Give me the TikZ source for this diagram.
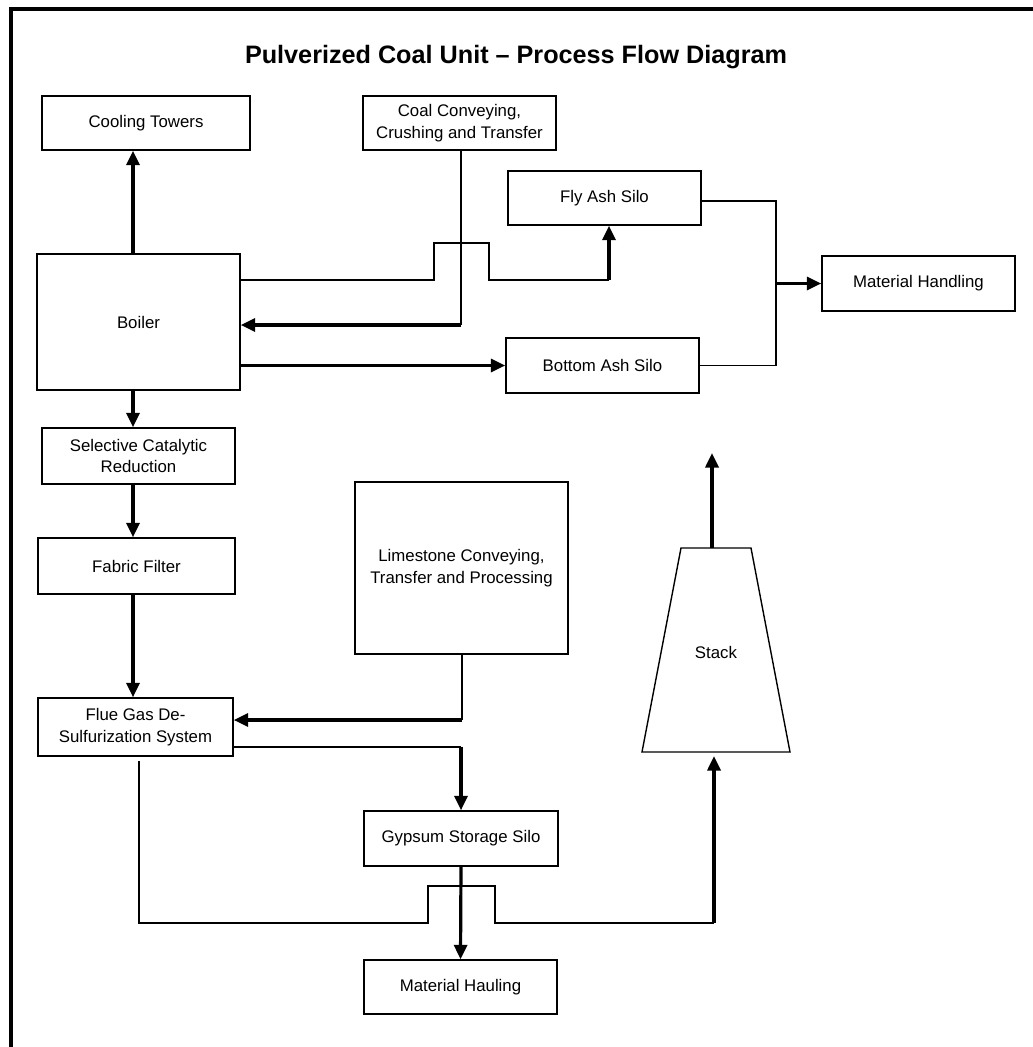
\documentclass[tikz,border=0pt]{standalone}
\usepackage{fontspec}
\setmainfont{Liberation Sans}
\usetikzlibrary{arrows.meta,calc}
\begin{document}
\begin{tikzpicture}[x=1pt,y=-1pt,
  box/.style={draw,line width=1.4pt,inner sep=0pt,align=center,font=\fontsize{16.8}{21.5}\selectfont},
  thinline/.style={line width=1.4pt},
  thickline/.style={line width=3.2pt},
  flow/.style={line width=3.2pt,-{Triangle[length=14.5pt,width=13pt]}},
  frameline/.style={line width=4pt}
]
\useasboundingbox (0,0) rectangle (1033,1047);
% frame
\coordinate (frTL) at (11,9);
\coordinate (frTR) at (1033,9);
\coordinate (frBL) at (11,1047);
\draw[frameline] (frTR) -- (frTL) -- (frBL);
% title
\node[font=\fontsize{25.2}{30}\selectfont\bfseries] (title) at (516,57) {Pulverized Coal Unit – Process Flow Diagram};
% boxes
\node[box,minimum width=208,minimum height=54] (cool) at (146,123) {Cooling Towers};
\node[box,minimum width=193,minimum height=54] (coal) at (459.5,123) {Coal Conveying,\\Crushing and Transfer};
\node[box,minimum width=193,minimum height=54] (fly) at (604.5,198) {Fly Ash Silo};
\node[box,minimum width=203,minimum height=136] (boiler) at (138.5,322) {Boiler};
\node[box,minimum width=193,minimum height=55] (mh) at (918.5,283.5) {Material Handling};
\node[box,minimum width=193,minimum height=55] (bash) at (602.5,365.5) {Bottom Ash Silo};
\node[box,minimum width=193,minimum height=56] (scr) at (138.5,456) {Selective Catalytic\\Reduction};
\node[box,minimum width=197,minimum height=56] (ff) at (136.5,566) {Fabric Filter};
\node[box,minimum width=213,minimum height=172] (lime) at (461.5,568) {Limestone Conveying,\\Transfer and Processing};
\node[box,minimum width=195,minimum height=58] (fgd) at (135.5,727) {Flue Gas De-\\Sulfurization System};
\node[box,minimum width=194,minimum height=55] (gyp) at (461,838.5) {Gypsum Storage Silo};
\node[box,minimum width=193,minimum height=54] (haul) at (460.5,987) {Material Hauling};
% stack
\coordinate (stTL) at (681,548);
\coordinate (stTR) at (751,548);
\coordinate (stBR) at (790,752);
\coordinate (stBL) at (642,752);
\draw[line width=1.4pt] (stTL) -- (stTR) -- (stBR) -- (stBL) -- cycle;
\node[font=\fontsize{16.8}{21.5}\selectfont] (stack) at (716,652) {Stack};
\coordinate (stackTop) at (712,548);
\coordinate (stackOut) at (712,453);
\coordinate (stackBot) at (714,756);
% column helpers
\coordinate (colA) at (133,0);
\coordinate (colB) at (461,0);
% boiler -> cooling towers
\draw[flow] (boiler.north -| colA) -- (cool.south -| colA);
% coal -> boiler
\coordinate (c1) at (461,325);
\draw[thinline] (coal.south -| c1) -- (c1);
\draw[flow] (c1) -- (boiler.east |- c1);
% boiler -> fly ash silo (with hop over coal line)
\coordinate (f1) at (434,280);
\coordinate (f2) at (434,243);
\coordinate (f3) at (489,243);
\coordinate (f4) at (489,280);
\coordinate (f5) at (609,280);
\draw[thinline] (boiler.east |- f1) -- (f1) -- (f2) -- (f3) -- (f4) -- (f5);
\draw[flow] (f5) -- (fly.south -| f5);
% boiler -> bottom ash silo
\draw[flow] (boiler.east |- bash.west) -- (bash.west);
% silos -> material handling
\coordinate (m1) at (776,201);
\coordinate (m2) at (776,365.5);
\coordinate (m3) at (776,283.5);
\draw[thinline] (fly.east |- m1) -- (m1) -- (m2) -- (bash.east |- m2);
\draw[flow] (m3) -- (mh.west);
% gas path
\draw[flow] (boiler.south -| colA) -- (scr.north -| colA);
\draw[flow] (scr.south -| colA) -- (ff.north -| colA);
\draw[flow] (ff.south -| colA) -- (fgd.north -| colA);
% limestone -> FGD
\coordinate (l1) at (462,720);
\draw[thinline] (lime.south -| l1) -- (l1);
\draw[flow] (l1) -- (fgd.east |- l1);
% FGD -> gypsum
\coordinate (g1) at (461,747);
\draw[thinline] (fgd.east |- g1) -- (g1);
\draw[flow] (g1) -- (gyp.north -| g1);
% FGD -> stack
\coordinate (s0) at (139,761);
\coordinate (s1) at (139,923);
\coordinate (s2) at (428,923);
\coordinate (s3) at (428,886);
\coordinate (s4) at (495,886);
\coordinate (s5) at (495,923);
\coordinate (s6) at (714,923);
\draw[thinline] (s0) -- (s1) -- (s2) -- (s3) -- (s4) -- (s5) -- (s6);
\draw[flow] (s6) -- (stackBot);
% gypsum -> hauling
\draw[flow] (gyp.south) -- (haul.north);
% stack out
\draw[flow] (stackTop) -- (stackOut);
\end{tikzpicture}
\end{document}
